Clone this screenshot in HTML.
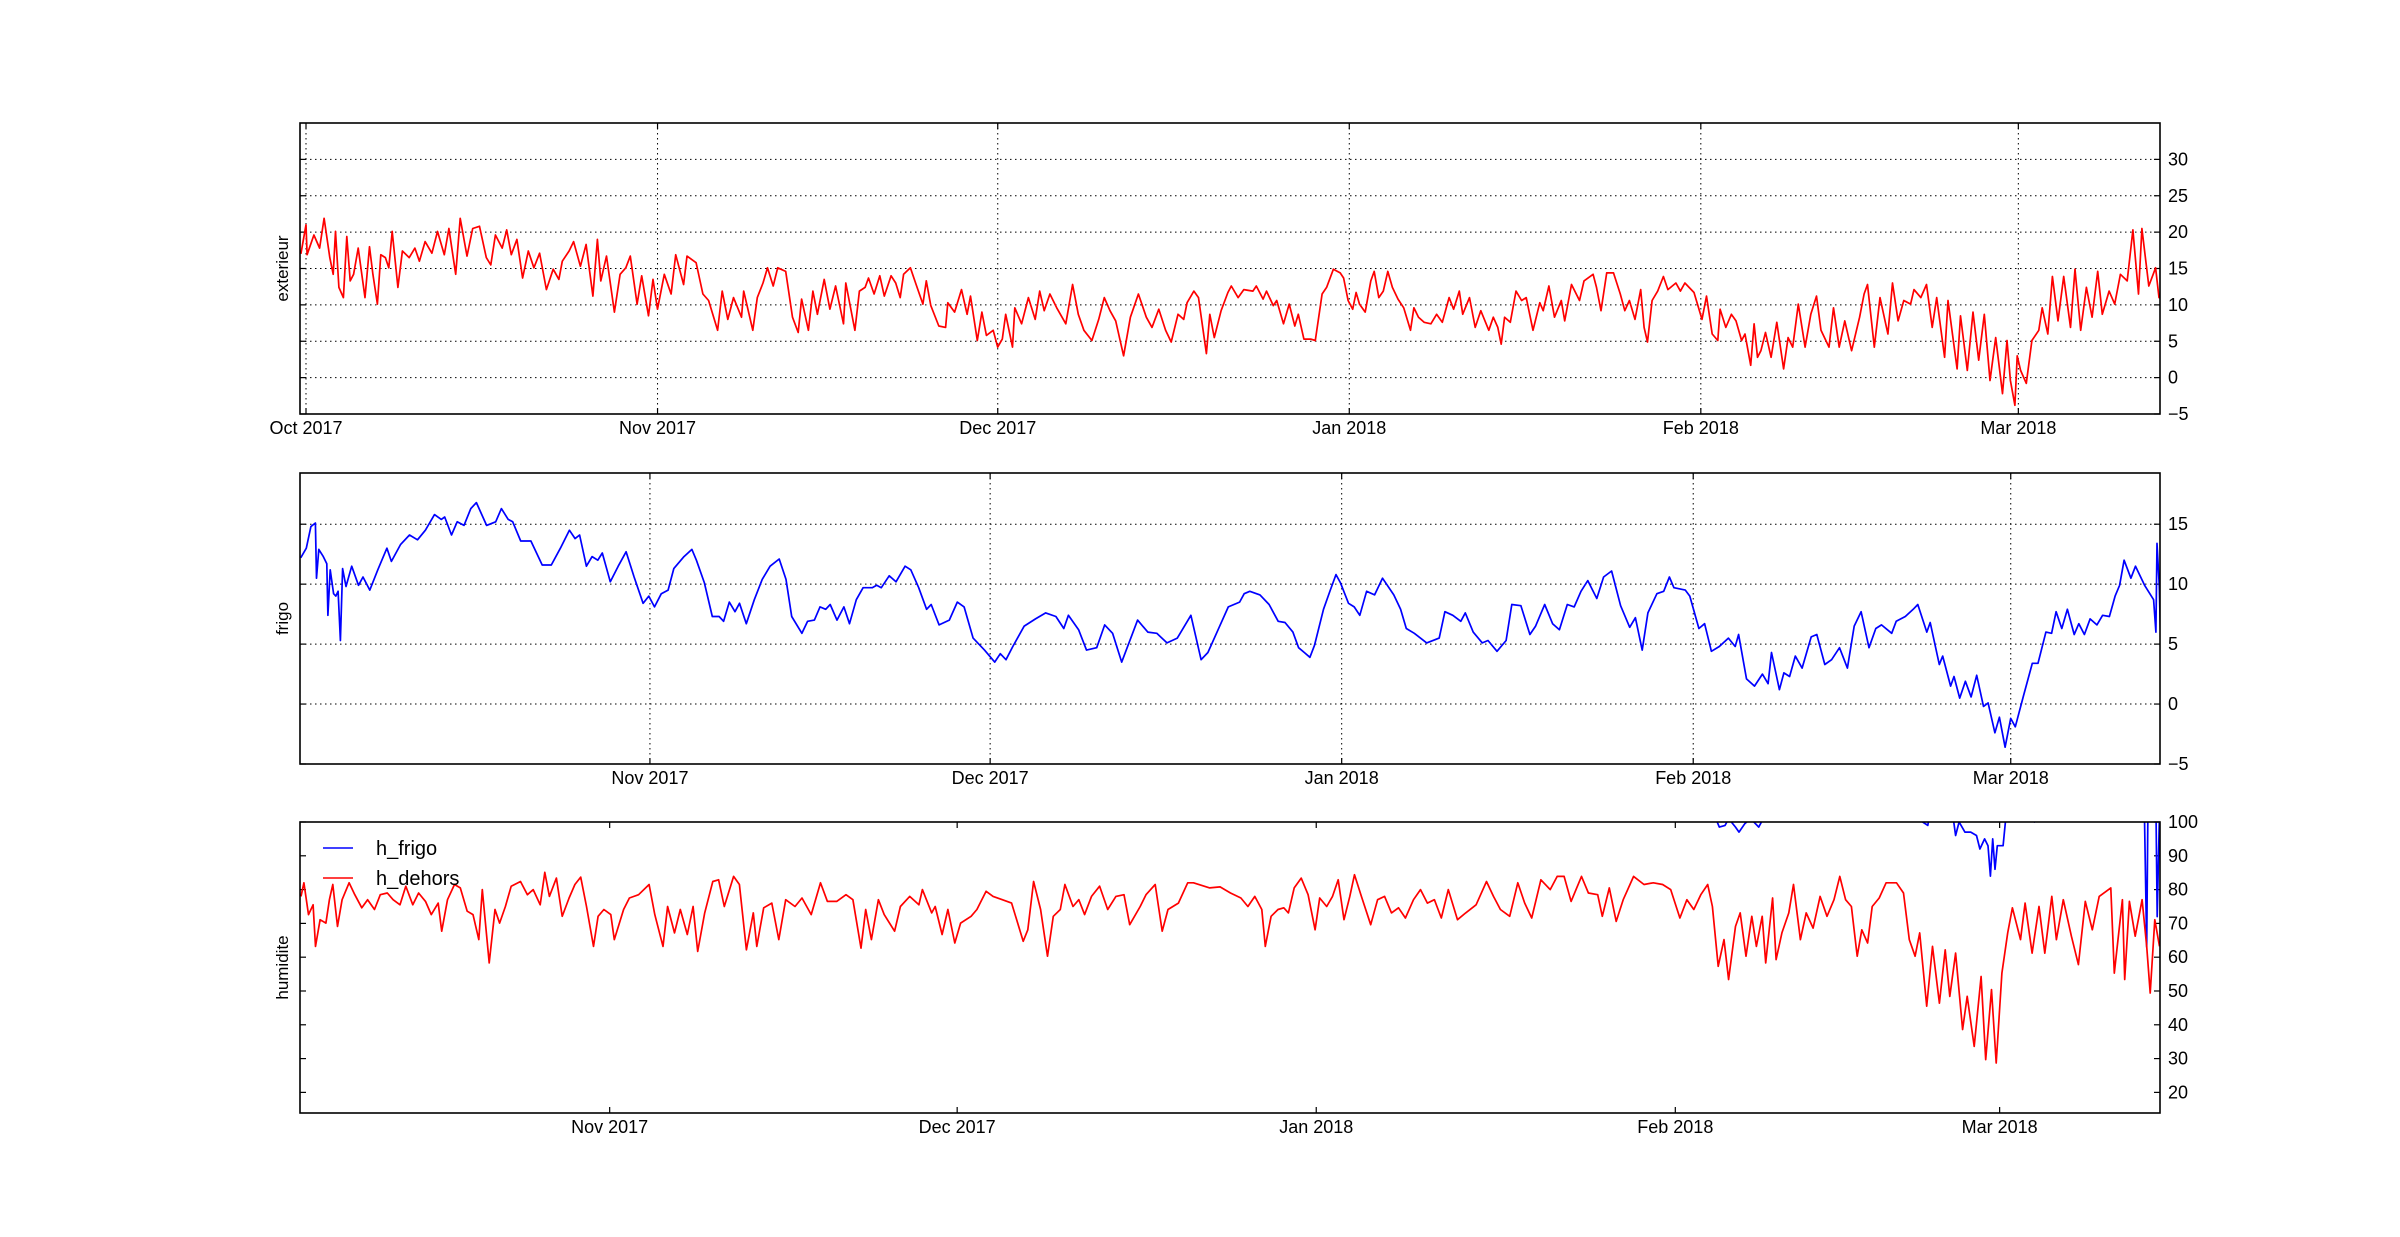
<!DOCTYPE html>
<html><head><meta charset="utf-8">
<style>
html,body{margin:0;padding:0;background:#fff;}
svg{display:block;}
text{font-family:"Liberation Sans","DejaVu Sans",sans-serif;fill:#000;}
</style></head>
<body>
<svg id="chart" width="2400" height="1237" viewBox="0 0 2400 1237" xmlns="http://www.w3.org/2000/svg">
<rect x="0" y="0" width="2400" height="1237" fill="#fff"/>
</svg>
<script>
// ---- data (day offsets from 2017-10-01) ----
const monthLabels = ["Oct 2017","Nov 2017","Dec 2017","Jan 2018","Feb 2018","Mar 2018"];
const monthDays = [0,31,61,92,123,151];

const extDays = [-0.45,0.0,0.1,0.7,1.2,1.6,2.1,2.4,2.6,2.9,3.3,3.6,3.9,4.2,4.6,5.2,5.6,5.9,6.3,6.6,7.0,7.3,7.6,8.1,8.5,9.1,9.6,10.0,10.5,11.1,11.6,12.2,12.6,13.2,13.6,14.2,14.7,15.3,15.9,16.3,16.7,17.3,17.7,18.1,18.6,19.1,19.6,20.1,20.6,21.2,21.8,22.3,22.6,23.2,23.6,24.2,24.7,25.3,25.7,26.0,26.5,27.2,27.7,28.2,28.6,29.2,29.6,30.2,30.6,31.0,31.6,32.2,32.6,33.3,33.6,34.4,35.0,35.5,36.3,36.7,37.2,37.7,38.4,38.6,39.4,39.8,40.3,40.7,41.2,41.6,42.3,42.9,43.4,43.7,44.3,44.7,45.1,45.7,46.2,46.7,47.4,47.6,48.4,48.8,49.3,49.6,50.1,50.6,51.0,51.6,52.0,52.4,52.7,53.3,53.8,54.4,54.7,55.1,55.8,56.4,56.6,57.2,57.8,58.3,58.6,59.2,59.6,60.0,60.6,61.0,61.4,61.7,62.3,62.5,63.1,63.7,64.3,64.7,65.1,65.6,66.2,67.0,67.6,68.1,68.6,69.3,69.9,70.4,70.9,71.4,72.1,72.7,73.4,74.1,74.6,75.2,75.8,76.3,76.9,77.4,77.7,78.3,78.7,
79.4,79.7,80.1,80.7,81.3,81.6,82.2,82.7,83.5,83.8,84.4,84.7,85.3,85.6,86.2,86.7,87.2,87.5,88.0,88.6,89.0,89.3,89.6,90.0,90.6,91.2,91.5,91.9,92.3,92.6,92.9,93.4,93.9,94.2,94.6,95.0,95.4,95.8,96.3,96.8,97.4,97.7,98.1,98.6,99.2,99.7,100.2,100.8,101.2,101.7,102.0,102.6,103.1,103.6,104.3,104.7,105.1,105.4,105.7,106.2,106.7,107.2,107.6,108.2,108.8,109.1,109.6,110.1,110.7,111.0,111.6,112.3,112.7,113.5,113.8,114.2,114.7,115.3,115.9,116.3,116.7,117.2,117.7,118.0,118.3,118.7,119.2,119.7,120.1,120.8,121.2,121.6,122.4,123.1,123.5,124.0,124.5,124.7,125.2,125.7,126.1,126.6,126.9,127.4,127.7,128.0,128.3,128.7,129.2,129.7,130.3,130.7,131.1,131.6,132.2,132.7,133.2,133.6,134.3,134.7,135.2,135.7,136.3,137.0,137.4,137.7,138.3,138.8,139.5,139.9,140.4,140.9,141.5,141.8,142.4,142.9,143.4,143.8,144.5,144.8,145.6,145.9,146.5,147.0,147.5,148.0,148.5,149.0,149.6,150.0,150.3,150.7,150.9,151.2,151.7,152.2,152.8,153.1,153.6,154.0,154.5,155.0,155.6,156.0,156.5,157.0,157.5,158.0,158.4,159.0,159.5,160.0,160.6,161.1,161.6,161.9,162.5,163.1,163.4,163.8];
const extVals = [17.0,21.0,16.9,19.6,17.8,21.9,16.5,14.2,20.1,12.4,11.0,19.4,13.3,14.2,17.8,11.0,18.0,14.2,10.1,16.9,16.5,15.1,20.1,12.4,17.4,16.5,17.8,16.0,18.7,17.1,20.1,16.9,20.5,14.2,21.9,16.7,20.5,20.8,16.5,15.5,19.6,17.8,20.3,16.9,19.0,13.7,17.4,15.1,17.1,12.1,14.9,13.5,16.0,17.4,18.7,15.3,18.3,11.2,19.0,13.3,16.7,9.0,14.2,15.1,16.7,10.1,14.0,8.5,13.5,9.4,14.2,11.5,16.9,12.8,16.7,15.8,11.5,10.6,6.5,11.9,8.0,11.0,8.3,11.9,6.5,11.0,13.0,15.1,12.6,15.1,14.6,8.3,6.2,10.8,6.5,11.9,8.7,13.5,9.4,12.6,7.4,13.0,6.5,11.9,12.4,13.7,11.5,14.0,11.2,14.0,13.0,11.0,14.2,15.1,12.8,10.1,13.3,9.9,7.1,6.9,10.3,9.0,12.1,8.7,11.2,5.1,9.0,5.8,6.5,4.2,5.3,8.7,4.2,9.6,7.4,11.0,8.0,11.9,9.2,11.5,9.6,7.4,12.8,8.7,6.5,5.1,8.0,11.0,9.2,7.8,3.0,8.3,11.5,8.3,6.9,9.4,6.5,4.9,8.7,8.0,10.3,11.9,11.0,
3.3,8.7,5.5,9.2,11.7,12.6,11.0,12.1,11.9,12.6,10.8,11.9,9.9,10.6,7.4,10.1,7.1,8.7,5.3,5.3,5.1,8.3,11.5,12.4,14.9,14.4,13.7,10.6,9.4,11.7,10.1,9.0,13.3,14.6,11.0,11.9,14.6,12.4,10.8,9.6,6.5,9.6,8.3,7.6,7.4,8.7,7.6,11.0,9.4,11.9,8.7,11.0,6.9,9.2,6.5,8.3,6.9,4.6,8.3,7.6,11.9,10.6,11.0,6.5,10.3,9.2,12.6,8.3,10.6,7.8,12.8,10.6,13.3,14.2,12.4,9.2,14.4,14.4,11.5,9.2,10.6,8.0,12.1,6.9,4.9,10.6,11.9,13.9,12.1,13.0,11.9,13.0,11.7,8.0,11.2,6.0,5.1,9.4,6.9,8.7,7.8,5.1,6.0,1.7,7.4,2.8,3.7,6.2,2.8,7.6,1.2,5.5,4.2,10.1,4.2,8.7,11.2,6.5,4.2,9.6,4.2,7.8,3.7,8.3,11.5,12.8,4.2,11.0,6.0,13.0,7.8,10.6,10.1,12.1,11.0,12.8,6.9,11.0,2.8,10.6,1.2,8.5,1.0,9.0,2.4,8.7,-0.4,5.5,-2.2,5.1,-0.4,-3.8,3.0,1.0,-0.8,5.1,6.5,9.6,6.0,13.9,7.8,13.9,6.9,14.9,6.5,12.4,8.3,14.6,8.7,11.9,10.1,14.2,13.3,20.3,11.5,20.5,12.6,15.1,11.0,10.8];

const frigoDays = [0.2,0.7,1.1,1.5,1.6,1.8,2.2,2.5,2.6,2.8,3.1,3.3,3.5,3.7,3.9,4.2,4.7,5.3,5.7,6.3,7.0,7.8,8.2,9.0,9.8,10.5,11.2,12.0,12.6,12.9,13.5,14.0,14.6,15.2,15.7,16.6,17.4,17.9,18.5,18.9,19.6,20.5,21.5,22.3,23.1,23.9,24.4,24.8,25.4,25.9,26.4,26.8,27.5,28.2,28.9,29.6,30.4,30.9,31.4,32.0,32.6,33.1,34.0,34.7,35.1,35.8,36.5,37.1,37.5,38.0,38.5,38.9,39.5,40.2,40.9,41.6,42.4,43.0,43.5,44.4,44.9,45.5,46.0,46.5,46.9,47.5,48.1,48.6,49.2,49.8,50.6,51.0,51.4,52.1,52.7,53.5,54.0,54.7,55.4,55.8,56.5,57.4,58.1,58.7,59.5,60.5,61.4,61.9,62.4,63.0,64.0,65.0,65.9,66.8,67.5,67.9,68.8,69.5,70.4,71.1,71.8,72.6,73.4,74.0,74.9,75.7,76.6,77.5,78.7,
79.6,80.2,81.1,82.0,83.0,83.4,83.9,84.8,85.6,86.4,87.0,87.7,88.2,88.7,89.2,89.6,90.4,91.0,91.5,91.9,92.6,93.1,93.6,94.2,94.9,95.6,96.6,97.2,97.7,98.4,99.5,100.6,101.1,101.8,102.5,102.9,103.6,104.4,104.9,105.7,106.5,107.0,107.8,108.6,109.1,109.9,110.6,111.2,111.9,112.5,113.1,113.7,114.5,115.1,115.8,116.6,117.4,117.9,118.5,119.0,119.8,120.4,120.9,121.3,122.3,122.7,123.5,124.0,124.6,125.3,126.1,126.7,127.0,127.7,128.4,129.1,129.6,129.9,130.6,131.0,131.5,132.0,132.6,133.4,133.9,134.6,135.2,135.9,136.6,137.2,137.8,138.5,139.1,139.6,140.5,140.9,141.7,142.4,142.8,143.6,143.9,144.7,145.0,145.7,146.0,146.5,147.0,147.5,148.0,148.6,149.0,149.6,150.0,150.5,151.0,151.4,152.1,152.9,153.4,154.1,154.6,155.0,155.5,156.0,156.6,157.0,157.5,158.0,158.6,159.1,159.7,160.2,160.6,161.0,161.6,162.0,162.8,163.6,163.8,163.9,164.1,164.2];
const frigoVals = [12.2,13.0,14.8,15.1,10.5,12.9,12.3,11.7,7.4,11.2,9.2,9.0,9.4,5.3,11.3,9.8,11.5,9.9,10.6,9.5,11.2,13.0,11.9,13.3,14.1,13.7,14.5,15.8,15.4,15.6,14.1,15.2,14.9,16.3,16.8,14.9,15.2,16.3,15.4,15.2,13.6,13.6,11.6,11.6,13.0,14.5,13.8,14.1,11.5,12.3,12.0,12.6,10.2,11.5,12.7,10.6,8.4,9.0,8.1,9.2,9.5,11.3,12.3,12.9,12.0,10.1,7.3,7.3,6.9,8.5,7.7,8.4,6.7,8.7,10.4,11.5,12.1,10.4,7.3,5.9,6.9,7.0,8.1,7.9,8.3,7.0,8.1,6.7,8.7,9.7,9.7,9.9,9.7,10.7,10.2,11.5,11.2,9.7,7.9,8.3,6.6,7.0,8.5,8.1,5.5,4.5,3.5,4.2,3.7,4.8,6.5,7.1,7.6,7.3,6.3,7.4,6.2,4.5,4.7,6.6,5.9,3.5,5.5,7.0,6.0,5.9,5.1,5.5,7.4,
3.7,4.3,6.2,8.1,8.5,9.2,9.4,9.1,8.3,6.9,6.8,6.0,4.7,4.3,3.9,4.9,7.9,9.5,10.8,10.1,8.4,8.1,7.4,9.4,9.1,10.5,9.1,7.9,6.3,5.9,5.1,5.5,7.7,7.4,6.9,7.6,6.0,5.1,5.3,4.4,5.3,8.3,8.2,5.8,6.5,8.3,6.7,6.2,8.3,8.1,9.4,10.3,8.8,10.6,11.1,8.2,6.4,7.2,4.5,7.6,9.2,9.4,10.6,9.7,9.5,9.0,6.3,6.7,4.4,4.8,5.5,4.8,5.8,2.1,1.5,2.5,1.7,4.3,1.2,2.6,2.3,4.0,3.0,5.6,5.8,3.3,3.7,4.7,3.0,6.5,7.7,4.7,6.3,6.6,5.9,6.9,7.3,7.9,8.3,6.0,6.8,3.3,4.0,1.5,2.3,0.5,1.9,0.6,2.4,-0.2,0.1,-2.4,-1.1,-3.6,-1.2,-1.9,0.6,3.4,3.4,6.0,5.9,7.7,6.3,7.9,5.8,6.7,5.8,7.1,6.6,7.4,7.3,9.0,9.9,12.0,10.5,11.5,9.9,8.7,6.0,13.4,9.8,6.0];

const hDehorsDays = [4.35,4.6,5.0,5.4,5.6,6.0,6.5,6.8,7.1,7.5,7.9,8.5,9.0,9.6,10.1,10.7,11.2,11.8,12.3,12.9,13.4,14.0,14.5,15.1,15.6,16.2,16.5,17.0,17.6,18.1,18.7,19.2,19.7,20.0,20.6,21.1,21.5,22.0,22.5,23.3,23.9,24.4,25.0,25.4,25.8,26.4,26.9,27.5,28.0,28.5,29.0,29.6,30.0,30.5,31.1,31.4,32.2,32.7,33.5,34.4,34.9,35.6,36.0,36.6,37.1,37.7,38.2,38.6,39.2,39.9,40.4,40.9,41.7,42.2,42.8,43.4,43.7,44.3,45.0,45.6,46.2,47.0,47.6,48.4,49.2,49.8,50.6,51.4,52.0,52.7,53.1,53.6,54.2,54.7,55.6,56.1,56.9,57.7,58.0,58.8,59.1,59.7,60.2,60.8,61.3,62.2,62.7,63.5,64.1,64.9,65.7,66.7,67.1,67.6,68.2,68.8,69.3,69.9,70.3,71.0,71.5,72.0,72.6,73.3,74.0,74.7,75.4,75.9,76.8,77.3,78.1,78.7,79.2,80.1,80.9,81.4,
82.8,83.7,84.6,85.5,86.1,86.7,87.3,87.6,88.1,88.7,89.2,89.6,90.1,90.7,91.3,91.9,92.3,92.9,93.4,93.9,94.4,94.9,95.3,95.9,96.7,97.3,97.9,98.5,99.1,99.7,100.4,101.0,101.6,102.2,102.8,103.4,104.2,104.9,105.8,106.7,107.3,107.9,108.7,109.4,110.0,110.6,111.4,112.2,112.8,113.4,114.0,114.9,115.5,116.3,116.7,117.3,117.9,118.5,119.4,120.3,121.1,121.9,122.6,123.4,124.0,124.6,125.2,125.8,126.2,126.7,127.2,127.6,128.2,128.6,129.1,129.6,130.0,130.5,130.8,131.4,131.7,132.2,132.8,133.2,133.8,134.3,134.9,135.5,136.1,136.7,137.2,137.7,138.2,138.7,139.1,139.6,140.0,140.6,141.2,142.1,142.7,143.2,143.7,144.1,144.7,145.2,145.8,146.3,146.7,147.2,147.8,148.2,148.8,149.4,149.8,150.3,150.7,151.2,151.7,152.1,152.8,153.2,153.8,154.4,154.9,155.5,155.9,156.5,157.2,157.8,158.4,159.0,159.6,160.2,160.6,160.9,161.6,161.8,162.2,162.7,163.3,163.7,164.0,164.4,164.8];
const hDehorsVals = [78.0,82.0,72.6,75.5,63.2,71.1,70.1,77.0,81.5,69.1,77.0,82.0,78.5,74.6,77.0,74.1,78.5,79.0,77.0,75.5,81.0,75.5,79.0,76.5,72.6,76.0,67.7,77.0,81.5,80.5,73.6,72.6,65.2,80.0,58.3,74.1,70.1,75.0,81.0,82.4,78.5,80.0,75.5,85.1,78.0,83.4,72.1,77.5,81.5,83.7,75.0,63.2,72.1,74.1,72.6,65.2,74.1,77.5,78.5,81.5,72.6,63.2,75.0,67.2,74.1,66.7,75.0,61.7,73.1,82.4,82.9,75.0,83.9,81.5,62.2,73.1,63.2,74.6,76.0,65.2,77.0,75.0,77.5,72.6,82.0,76.5,76.5,78.5,77.0,62.7,74.1,65.2,77.0,72.6,67.7,75.0,78.0,75.5,80.0,73.1,75.0,66.7,74.1,64.2,70.1,72.1,74.1,79.5,78.0,77.0,76.0,64.7,68.1,82.4,74.1,60.3,72.1,74.1,81.5,75.0,77.0,72.6,78.0,81.0,74.1,78.0,78.5,69.6,75.0,78.5,81.5,67.7,74.1,76.0,82.0,82.0,
80.5,80.8,79.0,77.5,75.0,78.0,74.1,63.2,72.1,74.1,74.6,73.1,80.5,83.4,78.5,68.1,77.5,75.0,78.0,82.9,71.1,78.0,84.4,78.0,69.6,77.0,78.0,73.1,74.6,71.6,77.0,80.0,76.0,77.0,71.6,80.0,71.1,73.1,75.5,82.4,78.0,74.1,72.1,82.0,76.0,71.6,82.9,80.0,83.9,83.9,76.5,83.9,79.0,78.5,72.1,80.5,70.6,77.0,83.9,81.5,82.0,81.5,80.0,71.6,77.0,74.1,78.5,81.5,75.0,57.3,65.2,53.4,69.1,73.1,60.3,72.1,63.2,72.1,58.3,77.5,59.3,67.2,73.1,81.5,65.2,73.1,68.6,78.0,72.1,77.0,83.9,77.0,75.0,60.3,68.1,64.2,75.0,77.5,82.0,82.0,79.0,65.2,60.3,67.2,45.5,63.2,46.4,62.2,48.4,61.2,38.6,48.4,33.6,54.3,29.7,50.4,28.7,55.3,67.2,74.6,65.2,76.0,61.2,75.0,61.2,78.0,65.2,77.0,66.2,57.8,76.5,68.1,78.0,79.5,80.5,55.3,77.0,53.4,76.5,66.2,77.0,63.2,49.4,71.1,63.2];

const hFrigoDays = [120.0,126.5,126.8,127.3,127.6,128.2,128.5,129.0,129.5,130.2,130.6,131.0,143.0,144.8,145.0,147.0,147.2,147.5,148.0,148.5,149.0,149.3,149.7,150.0,150.2,150.4,150.6,150.8,151.3,151.5,151.7,153.5,154.0,154.3,163.5,163.7,163.8,164.5,164.6,164.8];
const hFrigoVals = [103,101,98.5,99,101,98.5,97,99.5,101,98.5,101,103,103,99,103,101,96,100,97,97,96,92,95,93,84,95,86,93,93,100,103,103,100,103,103,63,103,103,72,103];

// ---- rendering ----
const NS = "http://www.w3.org/2000/svg";
const svg = document.getElementById("chart");
function mk(tag, attrs, parent){
  const e = document.createElementNS(NS, tag);
  for (const k in attrs) e.setAttribute(k, attrs[k]);
  (parent||svg).appendChild(e);
  return e;
}
const X0 = 300, X1 = 2160;
const panels = [
  {name:"exterieur", y0:123, y1:414, d0:306, dpx:11.34, yMin:-5, yMax:35, ticks:[-5,0,5,10,15,20,25,30], grid:true, months:[0,1,2,3,4,5], labelY:428},
  {name:"frigo", y0:473, y1:764, d0:298.4, dpx:11.34, yMin:-5, yMax:19.27, ticks:[-5,0,5,10,15], grid:true, months:[1,2,3,4,5], labelY:778},
  {name:"humidite", y0:822, y1:1113, d0:250.6, dpx:11.583, yMin:13.9, yMax:100, ticks:[20,30,40,50,60,70,80,90,100], grid:false, months:[1,2,3,4,5], labelY:1127}
];
function xScale(p, d){ return p.d0 + d*p.dpx; }
function yScale(p, v){ return p.y1 - (v - p.yMin)/(p.yMax - p.yMin)*(p.y1 - p.y0); }

function drawSeries(p, days, vals, color, name, clipId){
  let d = "";
  for (let i=0;i<days.length;i++){
    d += (i?"L":"M") + xScale(p,days[i]).toFixed(1) + "," + yScale(p,vals[i]).toFixed(1);
  }
  const path = mk("path", {d:d, fill:"none", stroke:color, "stroke-width":1.7, "stroke-linejoin":"round", "clip-path":"url(#"+clipId+")"});
  
  
}

const defs = mk("defs", {});
panels.forEach((p, pi) => {
  const g = mk("g", {});
  
  
  const cp = mk("clipPath", {id:"clip"+pi}, defs);
  mk("rect", {x:X0, y:p.y0, width:X1-X0, height:p.y1-p.y0}, cp);

  // grid
  if (p.grid){
    p.months.forEach(mi => {
      const x = xScale(p, monthDays[mi]);
      const gl = mk("line", {x1:x, x2:x, y1:p.y0, y2:p.y1, stroke:"#000", "stroke-width":1, "stroke-dasharray":"1.5,3.5"}, g);
      
      
    });
    p.ticks.forEach(t => {
      const y = yScale(p, t);
      if (y <= p.y0+1 || y >= p.y1-1) return;
      const gl = mk("line", {x1:X0, x2:X1, y1:y, y2:y, stroke:"#000", "stroke-width":1, "stroke-dasharray":"1.5,3.5"}, g);
      
      
    });
  }
  // x ticks + labels
  p.months.forEach(mi => {
    const x = xScale(p, monthDays[mi]);
    mk("line", {x1:x, x2:x, y1:p.y1, y2:p.y1-6, stroke:"#000", "stroke-width":1.2}, g);
    mk("line", {x1:x, x2:x, y1:p.y0, y2:p.y0+6, stroke:"#000", "stroke-width":1.2}, g);
    const t = mk("text", {x:x, y:p.labelY+6, "text-anchor":"middle", "font-size":18}, g);
    t.textContent = monthLabels[mi];
    
    
  });
  // y ticks + labels (right side)
  p.ticks.forEach(tv => {
    const y = yScale(p, tv);
    mk("line", {x1:X1, x2:X1-6, y1:y, y2:y, stroke:"#000", "stroke-width":1.2}, g);
    mk("line", {x1:X0, x2:X0+6, y1:y, y2:y, stroke:"#000", "stroke-width":1.2}, g);
    const t = mk("text", {x:X1+8, y:y+6, "font-size":18}, g);
    t.textContent = tv < 0 ? "\u2212" + Math.abs(tv) : String(tv);
    
    
  });
  // y axis title
  const cy = (p.y0+p.y1)/2;
  const yt = mk("text", {x:288, y:cy, "text-anchor":"middle", "font-size":17, transform:"rotate(-90 288 "+cy+")"}, g);
  yt.textContent = p.name;
  
  
});

drawSeries(panels[0], extDays, extVals, "#ff0000", "exterieur-line", "clip0");
drawSeries(panels[1], frigoDays, frigoVals, "#0000ff", "frigo-line", "clip1");
drawSeries(panels[2], hFrigoDays, hFrigoVals, "#0000ff", "h-frigo-line", "clip2");
drawSeries(panels[2], hDehorsDays, hDehorsVals, "#ff0000", "h-dehors-line", "clip2");

// frames
panels.forEach(p => {
  const f = mk("rect", {x:X0, y:p.y0, width:X1-X0, height:p.y1-p.y0, fill:"none", stroke:"#000", "stroke-width":1.6});
  
  
});

// legend
const lg = mk("g", {});


const legendNames = ["h_frigo","h_dehors"];
const legendColors = ["#0000ff","#ff0000"];
legendNames.forEach((n,i) => {
  const y = 848 + i*30;
  const l = mk("line", {x1:323, x2:353, y1:y, y2:y, stroke:legendColors[i], "stroke-width":1.6}, lg);
  
  
  const t = mk("text", {x:376, y:y+7, "font-size":20}, lg);
  t.textContent = n;
  
  
});
</script>
</body></html>
